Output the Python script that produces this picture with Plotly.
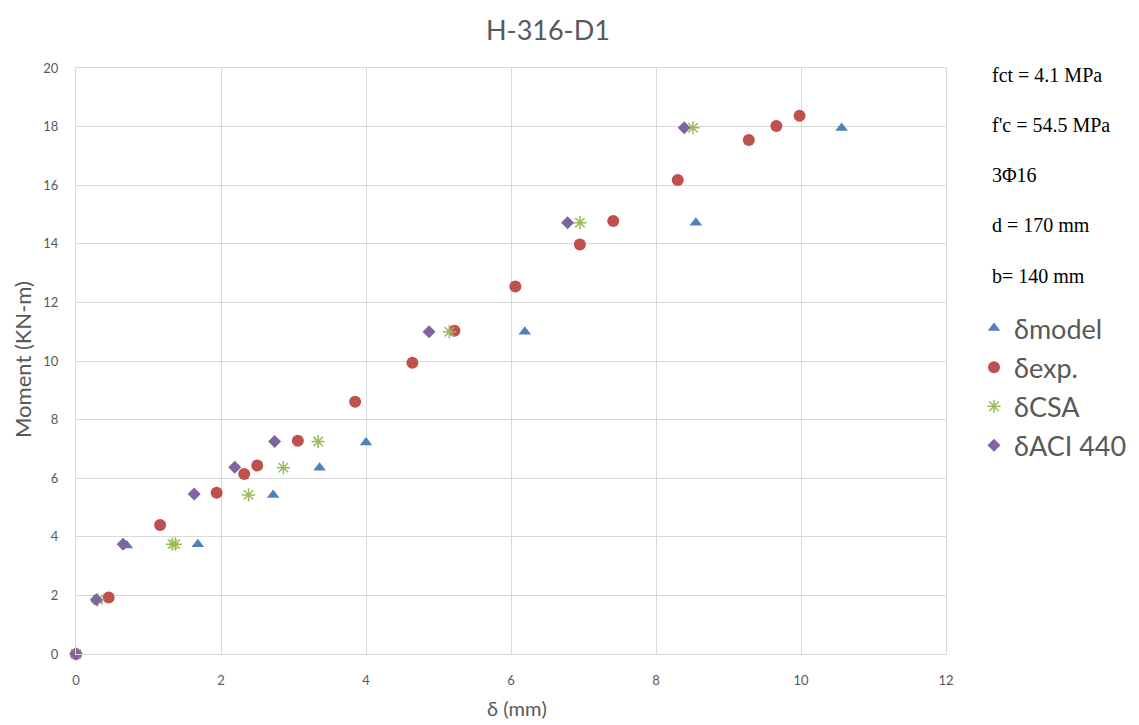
import plotly.graph_objects as go

# ---- data ----
model_x = [0, 0.29, 0.70, 1.68, 2.72, 3.36, 4.00, 6.19, 8.55, 10.56]
model_y = [0, 1.85, 3.70, 3.75, 5.43, 6.36, 7.22, 11.0, 14.72, 17.95]

exp_x = [0, 0.45, 1.16, 1.94, 2.32, 2.50, 3.06, 3.85, 4.64, 5.22, 6.06, 6.95, 7.41, 8.30, 9.28, 9.66, 9.98]
exp_y = [0, 1.93, 4.40, 5.50, 6.14, 6.43, 7.28, 8.61, 9.94, 11.03, 12.54, 13.98, 14.78, 16.18, 17.54, 18.02, 18.37]

csa_x = [0, 0.30, 1.33, 1.37, 2.38, 2.86, 3.34, 5.15, 6.95, 8.51]
csa_y = [0, 1.85, 3.75, 3.75, 5.43, 6.36, 7.25, 11.0, 14.72, 17.96]

aci_x = [0, 0.28, 0.65, 1.63, 2.19, 2.74, 4.87, 6.78, 8.39]
aci_y = [0, 1.85, 3.75, 5.46, 6.37, 7.25, 11.0, 14.72, 17.96]

series_names = ["δmodel", "δexp.", "δCSA", "δACI 440"]
notes = ["fct = 4.1 MPa", "f'c = 54.5 MPa", "3Φ16", "d = 170 mm", "b= 140 mm"]

title_text = "H-316-D1"
x_title = "δ (mm)"
y_title = "Moment (KN-m)"

# ---- layout geometry (pixels) ----
W, H = 1139, 725
L, R, T, B = 76, 946, 68, 654


def px_x(p):
    return (p - L) / (R - L)


def px_y(p):
    return (B - p) / (B - T)


GRAY = "#595959"
GRID = "#D9D9D9"
FONT = "Lato"

fig = go.Figure()
fig.add_trace(go.Scatter(x=model_x, y=model_y, mode="markers", name=series_names[0],
                         legendgroup="a", cliponaxis=False,
                         marker=dict(symbol="triangle-up", size=11, color="#4F81BD")))
fig.add_trace(go.Scatter(x=exp_x, y=exp_y, mode="markers", name=series_names[1],
                         legendgroup="b", cliponaxis=False,
                         marker=dict(symbol="circle", size=12, color="#C0504D")))
fig.add_trace(go.Scatter(x=csa_x, y=csa_y, mode="markers", name=series_names[2],
                         legendgroup="c", cliponaxis=False,
                         marker=dict(symbol="asterisk-open", size=11, color="#9BBB59",
                                     line=dict(color="#9BBB59", width=1.5))))
fig.add_trace(go.Scatter(x=aci_x, y=aci_y, mode="markers", name=series_names[3],
                         legendgroup="d", cliponaxis=False,
                         marker=dict(symbol="diamond", size=10, color="#8064A2")))

annotations = []
annotations.append(dict(text=title_text, x=px_x(548), y=px_y(30), xref="paper", yref="paper",
                        xanchor="center", yanchor="middle", showarrow=False,
                        font=dict(family=FONT, size=27, color=GRAY)))
annotations.append(dict(text=x_title, x=px_x(517), y=px_y(708), xref="paper", yref="paper",
                        xanchor="center", yanchor="middle", showarrow=False,
                        font=dict(family=FONT, size=20, color=GRAY)))
annotations.append(dict(text=y_title, x=px_x(22), y=px_y(360), xref="paper", yref="paper",
                        xanchor="center", yanchor="middle", showarrow=False, textangle=-90,
                        font=dict(family=FONT, size=22, color=GRAY)))
note_y = [75, 125, 175, 225, 276]
for txt, yy in zip(notes, note_y):
    annotations.append(dict(text=txt, x=px_x(990), y=px_y(yy), xref="paper", yref="paper",
                            xanchor="left", yanchor="middle", showarrow=False,
                            font=dict(family="Liberation Serif", size=20, color="#000000")))

fig.update_layout(
    width=W, height=H,
    margin=dict(l=L, r=W - R, t=T, b=H - B, pad=0, autoexpand=False),
    paper_bgcolor="white", plot_bgcolor="white",
    showlegend=True,
    legend=dict(x=px_x(974), y=px_y(304), xanchor="left", yanchor="top",
                font=dict(family=FONT, size=27, color=GRAY),
                tracegroupgap=1, itemwidth=30, bgcolor="rgba(0,0,0,0)"),
    annotations=annotations,
)
fig.update_xaxes(range=[0, 12], dtick=2, showgrid=True, gridcolor=GRID, gridwidth=1,
                 zeroline=False, showline=True, mirror=True, linecolor=GRID, linewidth=1,
                 ticks="", ticklabelstandoff=14, automargin=False,
                 tickfont=dict(family=FONT, size=13, color=GRAY))
fig.update_yaxes(range=[0, 20], dtick=2, showgrid=True, gridcolor=GRID, gridwidth=1,
                 zeroline=False, showline=True, mirror=True, linecolor=GRID, linewidth=1,
                 ticks="", ticklabelstandoff=14, automargin=False,
                 tickfont=dict(family=FONT, size=13, color=GRAY))

fig.write_html("out.html")
